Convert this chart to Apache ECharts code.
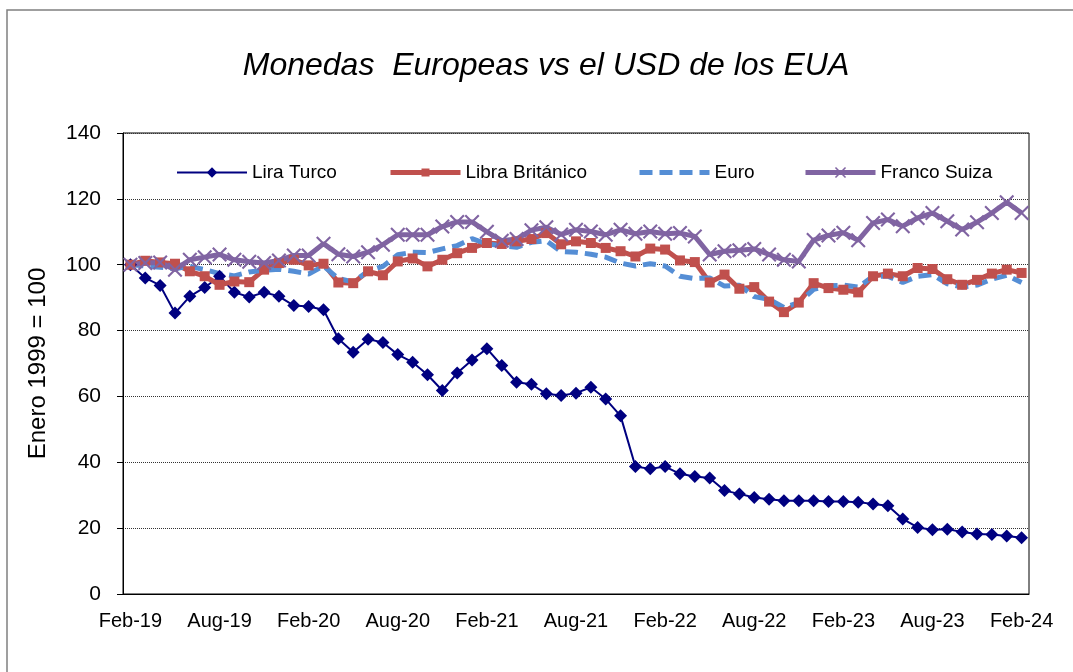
<!DOCTYPE html>
<html>
<head>
<meta charset="utf-8">
<title>Monedas Europeas vs el USD de los EUA</title>
<script src="https://cdn.jsdelivr.net/npm/echarts@6/dist/echarts.min.js"></script>
<style>
  html, body { margin: 0; padding: 0; background: #fff; }
  #chart { width: 1073px; height: 672px; }
</style>
</head>
<body>
<div id="chart"></div>
<script>
// categorias mensuales, Feb-19 .. Feb-24
var months = [
  'Feb-19', 'Mar-19', 'Apr-19', 'May-19', 'Jun-19', 'Jul-19', 'Aug-19', 'Sep-19', 'Oct-19', 'Nov-19', 'Dec-19', 'Jan-20',
  'Feb-20', 'Mar-20', 'Apr-20', 'May-20', 'Jun-20', 'Jul-20', 'Aug-20', 'Sep-20', 'Oct-20', 'Nov-20', 'Dec-20', 'Jan-21',
  'Feb-21', 'Mar-21', 'Apr-21', 'May-21', 'Jun-21', 'Jul-21', 'Aug-21', 'Sep-21', 'Oct-21', 'Nov-21', 'Dec-21', 'Jan-22',
  'Feb-22', 'Mar-22', 'Apr-22', 'May-22', 'Jun-22', 'Jul-22', 'Aug-22', 'Sep-22', 'Oct-22', 'Nov-22', 'Dec-22', 'Jan-23',
  'Feb-23', 'Mar-23', 'Apr-23', 'May-23', 'Jun-23', 'Jul-23', 'Aug-23', 'Sep-23', 'Oct-23', 'Nov-23', 'Dec-23', 'Jan-24',
  'Feb-24'
]

var liraTurco = [
  100, 96, 93.7, 85.3, 90.4, 93.1, 96.5, 91.6, 90.2, 91.6,
  90.4, 87.6, 87.3, 86.3, 77.5, 73.4, 77.4, 76.4, 72.7, 70.4,
  66.6, 61.8, 67.1, 71.1, 74.5, 69.4, 64.3, 63.7, 60.8, 60.3,
  61, 62.8, 59.2, 54.1, 38.7, 38, 38.7, 36.5, 35.7, 35.2,
  31.4, 30.4, 29.3, 28.8, 28.3, 28.3, 28.3, 28.1, 28.1, 27.9,
  27.3, 26.8, 22.8, 20.2, 19.5, 19.7, 18.8, 18.2, 18.1, 17.6,
  17.1
]

var libraBritanico = [
  100, 101.2, 100.7, 100.3, 98, 96.5, 93.9, 94.9, 94.7, 98.5,
  100.5, 101.5, 99.8, 100.3, 94.6, 94.4, 98, 96.8, 101, 101.9,
  99.5, 101.5, 103.5, 105.1, 106.6, 106.3, 107.1, 107.8, 109.6, 106.2,
  107.1, 106.6, 105.1, 104.1, 102.5, 104.9, 104.6, 101.3, 100.8, 94.6,
  97, 92.7, 93.2, 88.8, 85.6, 88.5, 94.4, 92.9, 92.4, 91.6,
  96.5, 97.3, 96.5, 99, 98.7, 95.6, 93.9, 95.4, 97.3, 98.5,
  97.5
]

var euro = [
  100, 99.6, 99.2, 98.8, 99.5, 98.5, 97.3, 96.6, 97.8, 98.3,
  98.6, 98, 97.2, 99.6, 95.8, 94.8, 98, 99.5, 103, 103.8,
  103.7, 104.8, 105.8, 107.9, 106.3, 105.8, 105.3, 106.8, 107.3, 104,
  103.8, 103.2, 102.3, 100.5, 99.6, 100.3, 99.6, 96.5, 95.8, 96,
  93.5, 93.8, 90.3, 89.5, 87, 88.5, 92.5, 93.6, 93.8, 93.2,
  96.5, 96.5, 94.6, 96.5, 97, 94.2, 93.2, 93.8, 95.6, 96.8,
  94.6
]

var francoSuiza = [
  100, 100.5, 100.7, 98.5, 101.5, 102.3, 103.1, 101.5, 100.9, 100.5,
  101.3, 102.8, 102.8, 106.4, 103.2, 102.5, 103.8, 106.1, 109.1, 109.1,
  109.1, 111.6, 113, 113, 110, 107.3, 107.8, 110.5, 111.4, 109.2,
  110.6, 110.1, 109.1, 110.6, 109.4, 110.1, 109.4, 109.6, 108.6, 103.1,
  104.1, 104.4, 104.8, 103.1, 101.5, 101, 107.5, 108.9, 109.7, 107.4,
  112.7, 113.7, 111.7, 114.2, 115.7, 113.2, 110.7, 112.9, 115.7, 119,
  115.7
]

var FONT = 'Liberation Sans, Arial, sans-serif'
// cruz delgada para Franco Suiza
var crossPath = 'path://M0,1L1,0L5,4L9,0L10,1L6,5L10,9L9,10L5,6L1,10L0,9L4,5Z'

function legendAt(item, left, itemHeight, lineWidth) {
  return {
    data: [item],
    left: left,
    top: 163,
    padding: 0,
    itemWidth: 70,
    itemHeight: itemHeight,
    lineStyle: { width: lineWidth },
    textStyle: { fontFamily: FONT, fontSize: 19, color: '#000' }
  }
}

var chart = echarts.init(document.getElementById('chart'))
chart.setOption({
  animation: false,
  backgroundColor: '#fff',
  title: {
    text: 'Monedas  Europeas vs el USD de los EUA',
    left: 541,
    textAlign: 'center',
    top: 45,
    textStyle: { fontFamily: FONT, fontSize: 32, fontStyle: 'italic', fontWeight: 'normal', color: '#000' }
  },
  graphic: [
    {
      type: 'rect',
      shape: { x: 7, y: 10, width: 1080, height: 700 },
      style: { fill: 'none', stroke: '#808080', lineWidth: 1.5 },
      silent: true
    }
  ],
  legend: [
    legendAt('Lira Turco', 176, 13, 2),
    legendAt('Libra Británico', 388, 10, 5),
    legendAt({ name: 'Euro', itemStyle: { opacity: 0 } }, 637, 10, 5),
    legendAt('Franco Suiza', 803, 14, 5)
  ],
  grid: {
    left: 123, top: 133, right: 44, bottom: 78,
    show: true, borderColor: '#000', borderWidth: 1
  },
  xAxis: [
    {
      type: 'category',
      data: months,
      boundaryGap: true,
      axisLine: { lineStyle: { color: '#000', width: 1 } },
      axisTick: { interval: 5, length: 7, lineStyle: { color: '#000' } },
      axisLabel: { interval: 5, margin: 17, fontFamily: FONT, fontSize: 20, color: '#000' },
      splitLine: { show: false }
    },
    {
      // marcas que cruzan el eje
      type: 'category',
      data: months,
      position: 'bottom',
      boundaryGap: true,
      axisLine: { show: false },
      axisTick: { interval: 5, inside: true, length: 5, lineStyle: { color: '#000' } },
      axisLabel: { show: false },
      splitLine: { show: false }
    },
    {
      // marcas menores cada 3 meses
      type: 'category',
      data: months,
      position: 'bottom',
      boundaryGap: true,
      axisLine: { show: false },
      axisTick: { interval: 2, length: 4, lineStyle: { color: '#000' } },
      axisLabel: { show: false },
      splitLine: { show: false }
    }
  ],
  yAxis: {
    type: 'value',
    min: 0,
    max: 140,
    interval: 20,
    name: 'Enero 1999 = 100',
    nameLocation: 'middle',
    nameGap: 73,
    nameTextStyle: { fontFamily: FONT, fontSize: 24, color: '#000' },
    axisLine: { show: true, lineStyle: { color: '#000', width: 1 } },
    axisTick: { show: true, length: 6, lineStyle: { color: '#000' } },
    axisLabel: { margin: 22, fontFamily: FONT, fontSize: 21, color: '#000' },
    splitLine: { lineStyle: { color: '#333', type: [1, 1], width: 1 } }
  },
  series: [
    {
      name: 'Lira Turco',
      type: 'line',
      data: liraTurco,
      symbol: 'diamond',
      symbolSize: 13,
      showAllSymbol: true,
      lineStyle: { color: '#000080', width: 2 },
      itemStyle: { color: '#000080' }
    },
    {
      name: 'Libra Británico',
      type: 'line',
      data: libraBritanico,
      symbol: 'rect',
      symbolSize: 10,
      showAllSymbol: true,
      lineStyle: { color: '#C0504D', width: 5 },
      itemStyle: { color: '#C0504D' }
    },
    {
      name: 'Euro',
      type: 'line',
      data: euro,
      symbol: 'none',
      lineStyle: { color: '#558ED5', width: 5, type: [13, 7] },
      itemStyle: { color: '#558ED5' }
    },
    {
      name: 'Franco Suiza',
      type: 'line',
      data: francoSuiza,
      symbol: crossPath,
      symbolSize: 15,
      showAllSymbol: true,
      lineStyle: { color: '#8064A2', width: 5 },
      itemStyle: { color: '#8064A2' }
    }
  ]
})
</script>
</body>
</html>
